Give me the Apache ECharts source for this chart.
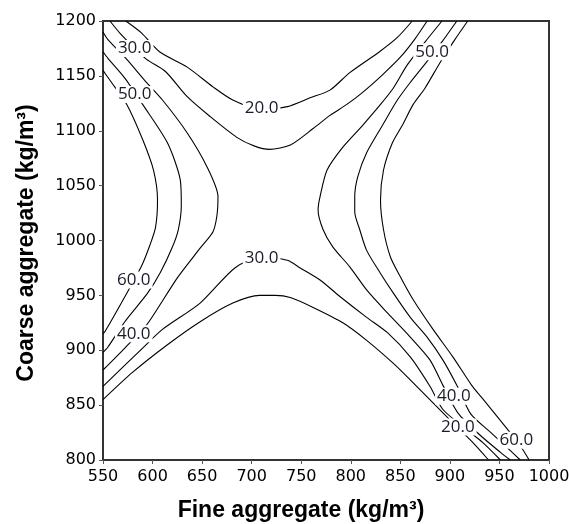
<!DOCTYPE html>
<html><head><meta charset="utf-8">
<script src="https://cdn.jsdelivr.net/npm/echarts@6/dist/echarts.min.js"></script>
<style>html,body{margin:0;padding:0;background:#fff}#c{width:569px;height:524px}</style>
</head><body><div id="c"></div>
<script>
// axis ranges (kg/m3)
const xMin = 550, xMax = 1000, yMin = 800, yMax = 1200, tickStep = 50;

// contour lines: [fine aggregate, coarse aggregate]
const level20Top = [[573,1200],[589,1189],[607,1172],[635,1158],[661,1140],[681,1128],[710,1119],[736,1122],[759,1130],[779,1137],[799,1153],[829,1172],[847,1185],[862,1200]];
const level30Top = [[557,1200],[567,1189],[580,1177],[594,1165],[613,1154],[635,1131],[658,1113],[685,1094],[703,1086],[718,1083],[739,1087],[762,1102],[779,1114],[796,1124],[812,1135],[832,1151],[850,1167],[865,1184],[877,1200]];
const level40Left = [[550,1190],[555,1183],[574,1165],[592,1146],[610,1128],[635,1098],[655,1067],[666,1040],[665,1023],[661,1008],[648,993],[625,966],[594,923],[572,902],[550,882]];
const level50Left = [[550,1172],[555,1166],[572,1148],[590,1124],[615,1089],[628,1055],[629,1032],[626,1010],[620,994],[608,971],[595,952],[572,926],[555,903],[550,898]];
const level60Left = [[550,1155],[557,1146],[574,1124],[590,1092],[601,1064],[605,1037],[603,1012],[597,995],[589,977],[574,952],[552,917],[550,915]];
const level30Bottom = [[550,867],[590,902],[610,919],[648,943],[683,975],[710,985],[736,982],[749,975],[769,964],[789,949],[816,930],[837,916],[860,894],[880,867],[893,846],[915,829],[933,816],[951,800]];
const level20Bottom = [[550,855],[580,880],[615,905],[648,926],[681,943],[708,950],[724,950],[739,948],[762,939],[792,925],[816,909],[843,888],[860,873],[882,853],[905,832],[923,816],[939,800]];
const level40Right = [[892,1200],[875,1181],[857,1160],[843,1139],[830,1124],[812,1105],[792,1085],[776,1064],[769,1040],[767,1028],[772,1010],[782,994],[799,976],[816,955],[837,934],[860,912],[880,891],[893,868],[908,843],[930,823],[951,807],[961,800]];
const level50Right = [[907,1200],[892,1181],[875,1161],[860,1144],[847,1128],[832,1105],[816,1080],[807,1058],[804,1040],[804,1026],[809,1010],[816,991],[830,970],[843,952],[860,930],[877,912],[893,891],[907,868],[921,842],[940,826],[957,812],[971,800]];
const level60Right = [[918,1200],[905,1183],[890,1162],[875,1139],[863,1124],[852,1105],[842,1089],[833,1064],[830,1037],[833,1010],[840,985],[850,967],[863,946],[883,919],[903,894],[922,868],[932,857],[959,827],[971,813],[980,800]];

// contour label positions and values
const labelX = [582, 710, 582, 882, 710, 581, 581, 904, 908, 967];
const labelY = [1175, 1121, 1133, 1172, 984, 964, 915, 858, 830, 818];
const labelValue = [30, 20, 50, 50, 30, 60, 40, 40, 20, 60];

const xTitle = 'Fine aggregate (kg/m³)';
const yTitle = 'Coarse aggregate (kg/m³)';

const curves = [level20Top, level30Top, level40Left, level50Left, level60Left,
  level30Bottom, level20Bottom, level40Right, level50Right, level60Right];

const chart = echarts.init(document.getElementById('c'), null, {renderer: 'canvas'});
const series = curves.map(d => ({
  type: 'line', data: d, smooth: 0.25, showSymbol: false, symbol: 'none',
  lineStyle: {color: '#000', width: 1.1}, silent: true, z: 2, animation: false
}));
series.push({
  type: 'scatter', z: 10, symbolSize: 1, itemStyle: {color: 'rgba(0,0,0,0)', opacity: 1}, animation: false,
  data: labelX.map((x, i) => [x, labelY[i], labelValue[i]]),
  label: {
    show: true, position: 'inside', formatter: p => p.value[2].toFixed(1),
    fontFamily: '"Open Sans"', fontSize: 17, color: '#1a1a2a', opacity: 1,
    textBorderWidth: 0, backgroundColor: '#fff', padding: [0, 2]
  },
  labelLayout: {hideOverlap: false}
});

const tickFmt = v => String(v);

chart.setOption({
  animation: false,
  backgroundColor: '#fff',
  grid: {left: 103, right: 20, top: 21, bottom: 64, containLabel: false, outerBoundsMode: 'none',
    show: true, borderColor: '#333', borderWidth: 2, backgroundColor: 'transparent'},
  xAxis: {
    type: 'value', min: xMin, max: xMax, interval: tickStep,
    axisLine: {show: false}, splitLine: {show: false},
    axisTick: {show: true, length: 4, lineStyle: {color: '#555'}},
    axisLabel: {margin: 9, color: '#000', fontFamily: '"DejaVu Sans"', fontSize: 16, formatter: tickFmt, hideOverlap: false}
  },
  yAxis: {
    type: 'value', min: yMin, max: yMax, interval: tickStep,
    axisLine: {show: false}, splitLine: {show: false},
    axisTick: {show: true, length: 4, lineStyle: {color: '#555'}},
    axisLabel: {margin: 7, color: '#000', fontFamily: '"DejaVu Sans"', fontSize: 16, formatter: tickFmt}
  },
  graphic: [
    {type: 'text', x: 301, y: 511, style: {text: xTitle, font: 'bold 23px "Liberation Sans"', fill: '#000', align: 'center', verticalAlign: 'middle'}},
    {type: 'text', x: 27, y: 243, rotation: Math.PI / 2, style: {text: yTitle, font: 'bold 23px "Liberation Sans"', fill: '#000', align: 'center', verticalAlign: 'middle'}}
  ],
  series: series
});
</script></body></html>
